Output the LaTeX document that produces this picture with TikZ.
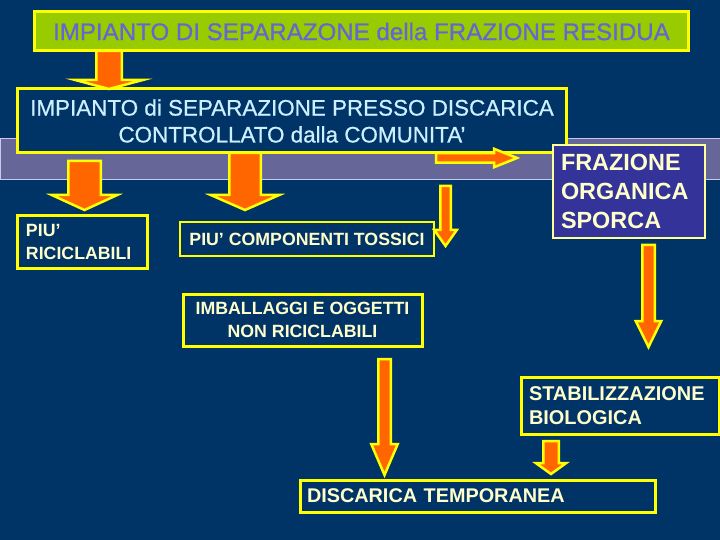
\documentclass[tikz,border=0pt]{standalone}
\usepackage{fontspec}
\setmainfont{Liberation Sans}
\newfontfamily\spesso{Liberation Sans}[FakeBold=0.7]
\usetikzlibrary{calc}

\definecolor{sfondo}{RGB}{0,51,102}
\definecolor{fascia}{RGB}{102,102,153}
\definecolor{bordofascia}{RGB}{200,200,240}
\definecolor{verde}{RGB}{153,204,0}
\definecolor{giallo}{RGB}{255,255,0}
\definecolor{giallino}{RGB}{255,255,153}
\definecolor{arancio}{RGB}{255,102,0}
\definecolor{crema}{RGB}{255,255,204}
\definecolor{celeste}{RGB}{204,240,255}
\definecolor{lilla}{RGB}{102,102,210}
\definecolor{blu}{RGB}{51,51,153}

% freccia verso il basso: #1 inizio, #2 punta, #3 mezzo fusto, #4 mezza punta, #5 lunghezza punta
\newcommand{\frecciagiu}[5]{%
  \draw[freccia] ($(#1)+(-#3,0)$) -- ($(#2)+(-#3,-#5)$) -- ($(#2)+(-#4,-#5)$)
    -- (#2) -- ($(#2)+(#4,-#5)$) -- ($(#2)+(#3,-#5)$) -- ($(#1)+(#3,0)$) -- cycle;}

\begin{document}
\begin{tikzpicture}[x=1bp,y=-1bp,
  box/.style={draw=giallo,line width=3bp,fill=sfondo,inner sep=0pt,outer sep=0pt},
  boxfine/.style={box,line width=1.3bp},
  testo/.style={text=crema,font=\bfseries\fontsize{17.8}{24}\selectfont},
  freccia/.style={fill=arancio,draw=giallo,line width=2.5bp,line join=miter}]

\fill[sfondo] (0,0) rectangle (720,540);
\useasboundingbox (0,0) rectangle (720,540);

\draw[fill=fascia,draw=bordofascia,line width=0.8bp] (0.5,138) rectangle (720.5,179);

\node (titolo) at (361.5,31.5) [box,fill=verde,minimum width=653bp,minimum height=39bp,
  text=lilla,font=\spesso\fontsize{24.2}{27}\selectfont] {IMPIANTO DI SEPARAZONE della FRAZIONE RESIDUA};
\node (impianto) at (292,121) [box,minimum width=548bp,minimum height=64bp,align=center,
  text=celeste,font=\spesso\fontsize{22.5}{27}\selectfont]
  {IMPIANTO di SEPARAZIONE PRESSO DISCARICA\\CONTROLLATO dalla COMUNITA’};

\node (riciclabili) at (82.5,242) [box,testo,minimum width=129bp,minimum height=52bp,
  text width=113bp,align=left] {PIU’\\RICICLABILI};
\node (tossici) at (307,239) [boxfine,testo,minimum width=254bp,minimum height=34bp]
  {PIU’ COMPONENTI TOSSICI};
\node (frazione) at (629,191.5) [boxfine,draw=giallino,fill=blu,testo,minimum width=152bp,
  minimum height=93bp,text width=136bp,align=left,font=\bfseries\fontsize{23.5}{29}\selectfont]
  {FRAZIONE\\ORGANICA\\SPORCA};
\node (imballaggi) at (302.5,320) [box,testo,minimum width=239bp,minimum height=52bp,
  align=center,font=\bfseries\fontsize{17.8}{23}\selectfont] {IMBALLAGGI E OGGETTI\\NON RICICLABILI};
\node (stabilizzazione) at (620,405.5) [box,testo,minimum width=198bp,minimum height=57bp,
  text width=182bp,align=left,font=\bfseries\fontsize{20}{24}\selectfont]
  {STABILIZZAZIONE\\BIOLOGICA};
\node (discarica) at (477.5,496) [box,testo,minimum width=355bp,minimum height=32bp,
  text width=341bp,align=left,font=\bfseries\fontsize{19.9}{24}\selectfont]
  {DISCARICA TEMPORANEA};

\coordinate (f2a) at (84.5,161);
\coordinate (f2b) at (84.5,210);
\coordinate (f3b) at (245,210);
\coordinate (f4a) at (436,158);
\coordinate (f4b) at (517,158);
\coordinate (f5a) at (445.5,186);
\coordinate (f5b) at (445.5,246);
\coordinate (f6a) at (648.5,245);
\coordinate (f6b) at (648.5,347);
\coordinate (f7a) at (384.5,359);
\coordinate (f7b) at (384.5,475);
\coordinate (f8a) at (551,441);
\coordinate (f8b) at (551,474);

\frecciagiu{titolo.south -| 109,0}{impianto.north -| 109,0}{12.75}{33.75}{9}
\frecciagiu{f2a}{f2b}{16.25}{32.75}{15}
\frecciagiu{impianto.south -| f3b}{f3b}{15.75}{34.25}{15}
\frecciagiu{f5a}{f5b}{5.25}{11.25}{16}
\frecciagiu{f6a}{f6b}{6.25}{12.75}{26}
\frecciagiu{f7a}{f7b}{6.25}{13.25}{31}
\frecciagiu{f8a}{f8b}{7.75}{15.25}{11}

\draw[freccia] ($(f4a)+(0,-4.75)$) -- ($(f4b)+(-23,-4.75)$) -- ($(f4b)+(-23,-9.25)$)
  -- (f4b) -- ($(f4b)+(-23,9.25)$) -- ($(f4b)+(-23,4.75)$) -- ($(f4a)+(0,4.75)$) -- cycle;

\end{tikzpicture}
\end{document}
